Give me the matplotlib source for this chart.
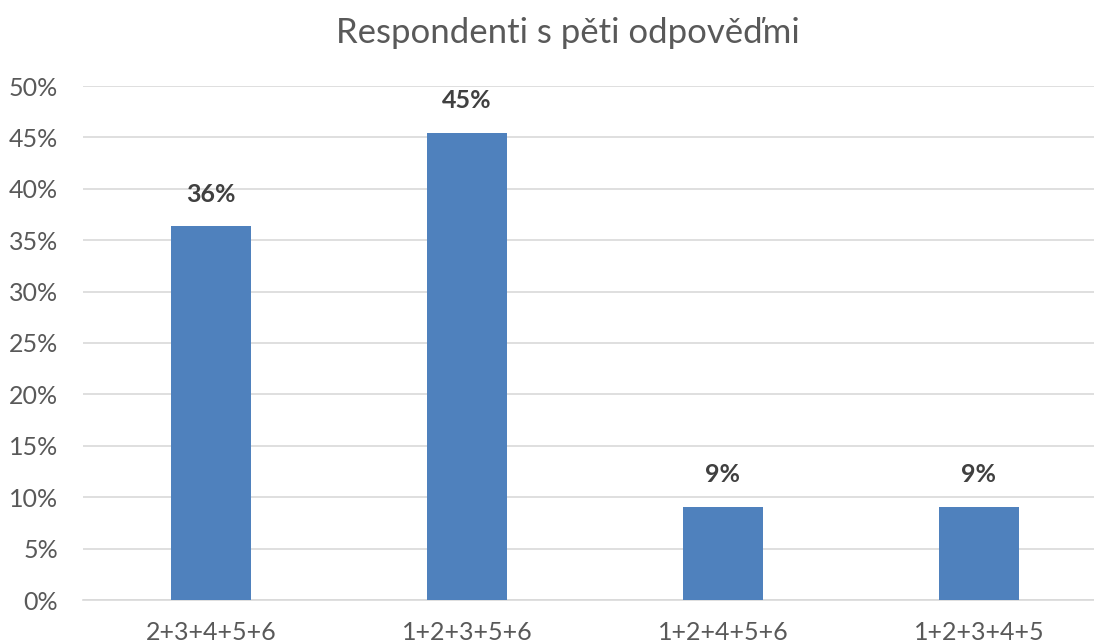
import matplotlib
matplotlib.use("Agg")
import matplotlib.pyplot as plt
from matplotlib.ticker import PercentFormatter, MultipleLocator

categories = ["2+3+4+5+6", "1+2+3+5+6", "1+2+4+5+6", "1+2+3+4+5"]
values = [36.36, 45.45, 9.09, 9.09]
labels = ["36%", "45%", "9%", "9%"]
title = "Respondenti s pěti odpověďmi"

plt.rcParams['font.family'] = ['Lato', 'DejaVu Sans']
text_color = "#595959"

fig = plt.figure(figsize=(10.94, 6.44), dpi=100)
ax = fig.add_axes([83 / 1094, 1 - 600 / 644, 1024 / 1094, 514 / 644])

x = range(len(categories))
bars = ax.bar(x, values, width=0.31, color="#4F81BD", zorder=3)
for b, lab in zip(bars, labels):
    ax.text(b.get_x() + b.get_width() / 2, b.get_height() + 2.0, lab,
            ha="center", va="bottom", fontsize=18, fontweight="bold", color="#404040")

ax.set_xlim(-0.5, len(categories) - 0.5)
ax.set_ylim(0, 50)
ax.yaxis.set_major_locator(MultipleLocator(5))
ax.yaxis.set_major_formatter(PercentFormatter(decimals=0))
ax.set_xticks(list(x))
ax.set_xticklabels(categories)
ax.tick_params(axis="both", length=0, labelsize=18, colors=text_color)
ax.tick_params(axis="x", pad=15)
ax.tick_params(axis="y", pad=18)
ax.grid(axis="y", color="#D9D9D9", linewidth=1.2, zorder=0)
for s in ["top", "right", "left"]:
    ax.spines[s].set_visible(False)
ax.spines["bottom"].set_color("#D9D9D9")
ax.spines["bottom"].set_linewidth(1.2)

fig.text(0.519, 0.948, title, ha="center", va="center", fontsize=25, color=text_color)

fig.savefig("out.png", dpi=100)
